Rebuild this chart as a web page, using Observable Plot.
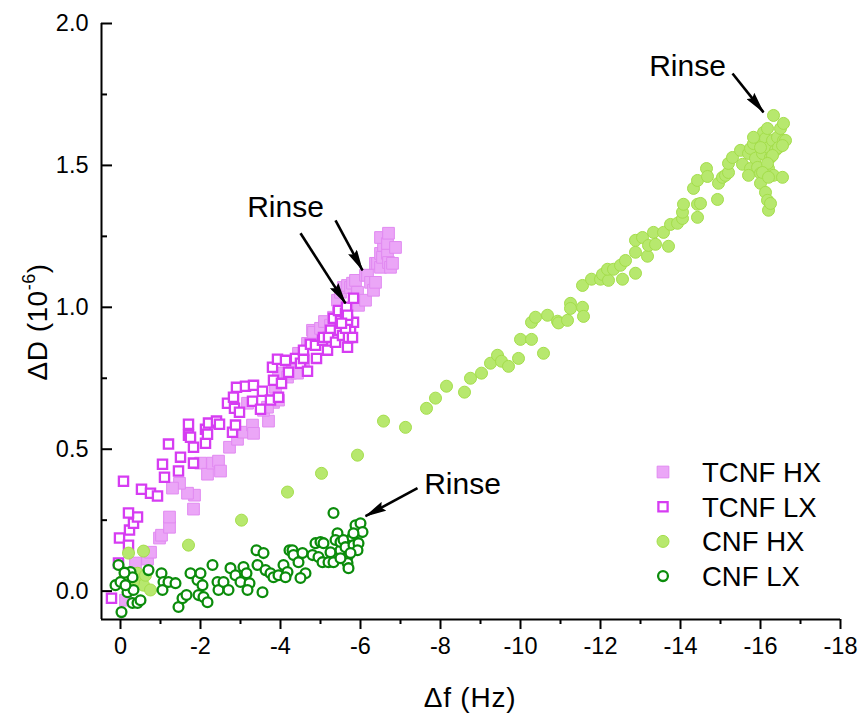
<!DOCTYPE html>
<html><head><meta charset="utf-8">
<script src="https://cdn.jsdelivr.net/npm/d3@7"></script>
<script src="https://cdn.jsdelivr.net/npm/@observablehq/plot@0.6"></script>
<style>
html,body{margin:0;padding:0;background:#fff;}
#chart{width:860px;height:713px;}
svg{font-family:"Liberation Sans",Arial,Helvetica,sans-serif;}
</style></head><body><div id="chart"></div>
<script>
// ---- data (Δf in Hz, ΔD in 1e-6) ----
const tcnfHX = [[-0.125,-0.032],[-0.375,0.099],[-0.675,0.113],[-0.75,0.137],[-0.975,0.187],[-1.025,0.197],[-1.225,0.225],[-1.225,0.261],[-1.825,0.289],[-1.85,0.338],[-1.675,0.345],[-1.475,0.380],[-1.3,0.363],[-2.0,0.451],[-2.175,0.412],[-2.3,0.451],[-2.45,0.458],[-2.5,0.423],[-2.725,0.507],[-2.925,0.535],[-3.075,0.560],[-3.3,0.585],[-3.325,0.556],[-3.7,0.599],[-3.575,0.637],[-3.175,0.662],[-3.825,0.665],[-3.675,0.648],[-3.95,0.673],[-3.875,0.718],[-3.95,0.768],[-4.175,0.754],[-4.25,0.768],[-4.3,0.79],[-4.425,0.768],[-4.45,0.838],[-4.575,0.813],[-4.675,0.873],[-4.75,0.873],[-4.8,0.919],[-4.825,0.912],[-5.0,0.926],[-5.1,0.95],[-5.25,0.937],[-5.325,0.965],[-5.45,0.98],[-5.425,1.025],[-5.5,1.053],[-5.575,1.070],[-5.675,1.077],[-5.75,1.070],[-5.8,1.085],[-5.875,1.095],[-5.925,1.053],[-5.95,1.007],[-6.125,1.025],[-6.125,1.113],[-6.175,1.113],[-6.25,1.088],[-6.325,1.060],[-6.375,1.088],[-6.375,1.155],[-6.425,1.155],[-6.5,1.141],[-6.5,1.190],[-6.55,1.176],[-6.575,1.218],[-6.5,1.246],[-6.675,1.190],[-6.675,1.225],[-6.7,1.158],[-6.7,1.261],[-6.75,1.141],[-6.8,1.155],[-6.875,1.211]];

const tcnfLX = [[0.225,-0.025],[0.05,0.099],[0.025,0.187],[-0.2,0.162],[-0.225,0.215],[-0.325,0.239],[-0.425,0.261],[-0.2,0.275],[-0.075,0.387],[-0.525,0.359],[-0.75,0.345],[-0.925,0.335],[-1.1,0.401],[-1.05,0.447],[-1.45,0.423],[-1.5,0.472],[-1.2,0.518],[-1.825,0.451],[-1.825,0.507],[-1.7,0.549],[-1.7,0.588],[-1.75,0.542],[-2.125,0.521],[-2.125,0.570],[-2.175,0.553],[-2.2,0.592],[-2.4,0.599],[-2.475,0.588],[-2.8,0.560],[-2.875,0.585],[-2.675,0.662],[-2.85,0.644],[-2.975,0.630],[-2.825,0.683],[-2.9,0.718],[-3.125,0.722],[-3.325,0.725],[-3.3,0.669],[-3.55,0.704],[-3.5,0.641],[-3.75,0.673],[-3.95,0.683],[-3.825,0.743],[-4.025,0.732],[-3.8,0.789],[-3.925,0.817],[-4.125,0.813],[-4.2,0.771],[-4.375,0.820],[-4.5,0.803],[-4.575,0.820],[-4.675,0.775],[-4.575,0.849],[-4.75,0.870],[-4.875,0.866],[-4.9,0.820],[-5.05,0.884],[-5.175,0.849],[-5.075,0.894],[-5.25,0.919],[-5.2,0.894],[-5.375,0.877],[-5.475,0.919],[-5.55,0.901],[-5.675,0.859],[-5.7,0.894],[-5.75,0.926],[-5.825,0.947],[-5.8,0.894],[-5.625,0.926],[-5.325,0.961],[-5.5,0.954],[-5.675,0.954],[-5.45,0.989],[-5.625,0.979],[-5.65,1.0],[-5.825,1.032],[-5.675,0.972],[-5.525,0.944]];

const cnfHX = [[-0.2,0.134],[-0.575,0.141],[-1.7,0.162],[-3.025,0.25],[-0.075,0.039],[-0.25,0.063],[-0.425,0.063],[-0.45,0.039],[-0.575,0.021],[-0.625,0.056],[-0.75,0.004],[-0.325,0.032],[-4.175,0.349],[-5.025,0.415],[-5.925,0.479],[-6.575,0.599],[-7.125,0.577],[-7.65,0.644],[-7.875,0.680],[-8.15,0.722],[-8.6,0.701],[-8.75,0.750],[-9.025,0.768],[-9.25,0.803],[-9.425,0.831],[-9.525,0.810],[-9.7,0.792],[-9.95,0.820],[-10.0,0.887],[-10.275,0.887],[-10.575,0.838],[-10.275,0.947],[-10.375,0.965],[-10.675,0.972],[-10.925,0.951],[-10.95,0.945],[-11.175,0.954],[-11.25,1.014],[-11.25,0.996],[-11.55,1.0],[-11.575,0.968],[-11.55,1.077],[-11.775,1.099],[-12.0,1.099],[-12.05,1.116],[-12.2,1.095],[-12.175,1.134],[-12.325,1.134],[-12.55,1.099],[-12.5,1.148],[-12.625,1.165],[-12.875,1.120],[-12.875,1.194],[-12.875,1.236],[-13.05,1.246],[-13.175,1.180],[-13.2,1.218],[-13.325,1.264],[-13.375,1.222],[-13.575,1.264],[-13.7,1.215],[-13.75,1.292],[-13.925,1.296],[-14.05,1.313],[-14.05,1.335],[-14.075,1.363],[-14.425,1.317],[-14.425,1.363],[-14.5,1.366],[-14.325,1.419],[-14.425,1.447],[-14.65,1.489],[-14.675,1.461],[-14.925,1.380],[-14.95,1.437],[-15.05,1.458],[-15.125,1.465],[-15.2,1.475],[-15.2,1.507],[-15.3,1.528],[-15.5,1.553],[-15.55,1.504],[-15.7,1.542],[-15.75,1.560],[-15.75,1.489],[-15.7,1.465],[-15.825,1.577],[-15.875,1.525],[-15.925,1.493],[-16.0,1.588],[-16.0,1.472],[-16.0,1.437],[-16.05,1.542],[-16.075,1.616],[-16.125,1.595],[-16.125,1.405],[-16.175,1.377],[-16.2,1.342],[-16.25,1.366],[-16.175,1.630],[-16.2,1.563],[-16.2,1.489],[-16.25,1.528],[-16.3,1.588],[-16.325,1.676],[-16.325,1.465],[-16.375,1.553],[-16.425,1.599],[-16.45,1.563],[-16.5,1.630],[-16.55,1.458],[-16.575,1.648],[-16.575,1.588],[-16.625,1.588],[-16.55,1.570],[-16.3,1.535],[-16.175,1.507],[-16.0,1.563],[-15.825,1.599],[-16.05,1.475],[-16.2,1.458]];

const cnfLX = [[0.05,0.092],[-0.025,-0.074],[0.125,0.021],[0,0.032],[-0.175,-0.004],[-0.25,0.067],[-0.3,0.049],[-0.325,0.004],[-0.3,-0.042],[-0.425,-0.042],[-0.5,-0.032],[-0.7,0.074],[-1.025,0.063],[-1.075,0.032],[-1.05,0.004],[-1.2,0.032],[-1.375,0.028],[-1.45,-0.056],[-1.55,-0.025],[-1.65,-0.014],[-1.75,0.063],[-1.925,0.039],[-2.0,0.063],[-2.05,0.021],[-1.95,-0.014],[-2.075,-0.021],[-2.175,-0.039],[-2.3,0.092],[-2.425,0.032],[-2.45,0.004],[-2.575,0.032],[-2.7,0.004],[-2.75,0.081],[-2.875,0.056],[-3.0,0.032],[-3.075,0.085],[-3.15,0.063],[-3.225,0.028],[-3.175,0.004],[-3.4,0.144],[-3.575,0.134],[-3.425,0.092],[-3.55,-0.004],[-3.625,0.074],[-3.75,0.063],[-3.825,0.049],[-3.95,0.056],[-4.075,0.092],[-4.175,0.067],[-4.125,0.049],[-4.225,0.144],[-4.3,0.144],[-4.325,0.127],[-4.45,0.102],[-4.55,0.134],[-4.625,0.063],[-4.5,0.046],[-4.8,0.127],[-4.875,0.169],[-5.0,0.173],[-5.075,0.169],[-4.95,0.120],[-5.05,0.102],[-5.2,0.102],[-5.325,0.102],[-5.25,0.137],[-5.425,0.204],[-5.375,0.180],[-5.5,0.144],[-5.5,0.173],[-5.575,0.180],[-5.675,0.120],[-5.675,0.099],[-5.7,0.081],[-5.625,0.155],[-5.8,0.190],[-5.875,0.232],[-6.0,0.239],[-6.05,0.208],[-5.825,0.162],[-5.95,0.169],[-5.925,0.144],[-5.825,0.204],[-5.75,0.134],[-5.5,0.116],[-5.325,0.275],[-0.1,0.065],[-0.125,0.021]];

const seriesNames = ["TCNF HX", "TCNF LX", "CNF HX", "CNF LX"];
const xTicks = [0, -2, -4, -6, -8, -10, -12, -14, -16, -18];
const xMinorTicks = [-1, -3, -5, -7, -9, -11, -13, -15, -17];
const yTicks = [0, 0.5, 1.0, 1.5, 2.0];
const yMinorTicks = [0.25, 0.75, 1.25, 1.75];
const xDomain = [0.475, -18];
const yDomain = [-0.1, 2.0];
const rinseLabels = [{x: -4.125, y: 1.352}, {x: -8.55, y: 0.377}, {x: -14.175, y: 1.849}];
const rinseArrows = [
  {x1: -4.5, y1: 1.261, x2: -5.625, y2: 1.014},
  {x1: -5.375, y1: 1.306, x2: -6.05, y2: 1.130},
  {x1: -7.425, y1: 0.363, x2: -6.125, y2: 0.264},
  {x1: -15.3, y1: 1.824, x2: -16.075, y2: 1.687}
];

// ---- styles ----
const styles = [
  {symbol: "square", r: 6.6, fill: "#eba6f7", stroke: "#e189f1", strokeWidth: 1},
  {symbol: "square", r: 5.2, fill: "#ffffff", stroke: "#d63cf2", strokeWidth: 2.3},
  {symbol: "circle", r: 6.0, fill: "#b7e86e", stroke: "#a4de4a", strokeWidth: 1},
  {symbol: "circle", r: 4.9, fill: "#ffffff", stroke: "#0b8c0b", strokeWidth: 2.3}
];
const seriesData = [tcnfHX, tcnfLX, cnfHX, cnfLX];
const FONT = '"Liberation Sans", Arial, Helvetica, sans-serif';

const dotMarks = seriesData.map((data, i) => Plot.dot(data, {x: d => d[0], y: d => d[1], ...styles[i]}));

const chart = Plot.plot({
  width: 860, height: 713,
  marginLeft: 101, marginRight: 20, marginTop: 23, marginBottom: 94,
  style: {fontFamily: FONT, background: "#fff", color: "#000", overflow: "visible"},
  x: {domain: xDomain, label: null},
  y: {domain: yDomain, label: null},
  marks: [
    ...dotMarks,
    Plot.link(rinseArrows, {x1: "x1", y1: "y1", x2: "x2", y2: "y2", stroke: "#000", strokeWidth: 2.6}),
    Plot.text(rinseLabels, {x: "x", y: "y", text: () => "Rinse", fontSize: 30, fill: "#000"}),
    Plot.ruleX([xDomain[0]], {stroke: "#000", strokeWidth: 2}),
    Plot.ruleY([yDomain[0]], {stroke: "#000", strokeWidth: 2}),
    Plot.axisY(yTicks, {anchor: "left", label: null, tickSize: -11, tickPadding: 24, strokeWidth: 2, fontSize: 23.5, tickFormat: d => d.toFixed(1)}),
    Plot.axisY(yMinorTicks, {anchor: "left", label: null, tickSize: -6, strokeWidth: 2, tickFormat: () => ""}),
    Plot.axisX(xTicks, {anchor: "bottom", label: null, tickSize: 10, tickPadding: 8, strokeWidth: 2, fontSize: 23.5, tickFormat: d => String(d)}),
    Plot.axisX(xMinorTicks, {anchor: "bottom", label: null, tickSize: 5, strokeWidth: 2, tickFormat: () => ""})
  ]
});
document.getElementById("chart").appendChild(chart);

const svg = d3.select(chart);
// arrowhead marker
const defs = svg.append("defs");
defs.append("marker").attr("id", "ah").attr("viewBox", "0 0 22 10")
  .attr("refX", 21).attr("refY", 5).attr("markerWidth", 22).attr("markerHeight", 10)
  .attr("markerUnits", "userSpaceOnUse").attr("orient", "auto")
  .append("path").attr("d", "M0,0 L22,5 L0,10 L3,5 Z").attr("fill", "#000");
svg.selectAll('g[aria-label="link"] path').attr("marker-end", "url(#ah)");

// axis titles
const yl = svg.append("text").attr("transform", "translate(47,322) rotate(-90)")
  .attr("text-anchor", "middle").attr("font-size", 28).attr("letter-spacing", 0.5)
  .attr("font-family", FONT).attr("fill", "#000");
yl.append("tspan").text("ΔD (10");
yl.append("tspan").attr("font-size", 18).attr("dy", -12).text("-6");
yl.append("tspan").attr("dy", 12).text(")");
svg.append("text").attr("x", 470).attr("y", 707).attr("text-anchor", "middle")
  .attr("font-size", 28).attr("letter-spacing", 0.8).attr("font-family", FONT).attr("fill", "#000").text("Δf (Hz)");

// legend
const lg = svg.append("g").attr("font-family", FONT).attr("font-size", 27.5).attr("text-anchor", "start");
seriesNames.forEach((name, i) => {
  const yy = 472 + i * 34.7;
  const s = styles[i];
  const sym = s.symbol === "square" ? d3.symbolSquare : d3.symbolCircle;
  lg.append("path").attr("transform", `translate(663,${yy})`)
    .attr("d", d3.symbol(sym, Math.PI * s.r * s.r)())
    .attr("fill", s.fill).attr("stroke", s.stroke).attr("stroke-width", s.strokeWidth);
  lg.append("text").attr("x", 702).attr("y", yy).attr("dy", "0.36em").attr("text-anchor", "start").attr("fill", "#000").text(name);
});
</script></body></html>
